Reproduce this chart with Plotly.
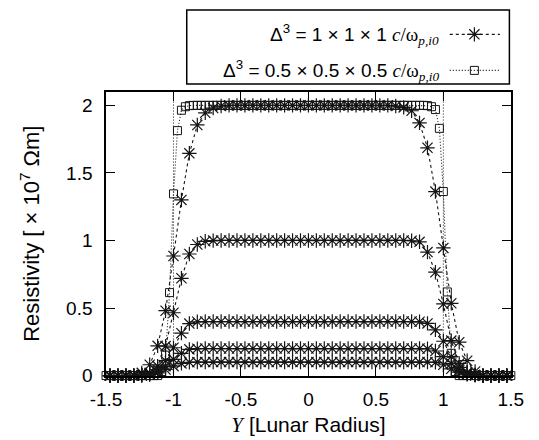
import plotly.graph_objects as go

# ---------------- data ----------------
# positive half of the fine grid (Delta = 0.5 run), lunar radii
Y_POS_FINE = [0.0294, 0.0588, 0.0882, 0.1176, 0.1471, 0.1765, 0.2059, 0.2353, 0.2647,
              0.2941, 0.3235, 0.3529, 0.3824, 0.4118, 0.4412, 0.4706, 0.5, 0.5294,
              0.5588, 0.5882, 0.6176, 0.6471, 0.6765, 0.7059, 0.7353, 0.7647, 0.7941,
              0.8235, 0.8529, 0.8824, 0.9118, 0.9412, 0.9706, 1.0, 1.0294, 1.0588,
              1.0882, 1.1176, 1.1471, 1.1765, 1.2059, 1.2353, 1.2647, 1.2941, 1.3235,
              1.3529, 1.3824, 1.4118, 1.4412, 1.4706, 1.5]
Y_FINE = [-v for v in reversed(Y_POS_FINE)] + [0.0] + Y_POS_FINE
# coarse grid (Delta = 1 run): every other fine-grid cell
Y_COARSE = Y_FINE[1::2]

# Delta^3 = 1x1x1 runs (asterisks), five resistivity levels [x 1e7 Ohm m]
RHO_D1_20 = [0, 0, 0, 0, 0.02, 0.08, 0.22, 0.48, 0.885, 1.30, 1.645, 1.855, 1.945, 1.98, 1.995,
             2.0, 2.0, 2.0, 2.0, 2.0, 2.0, 2.0, 2.0, 2.0, 2.0, 2.0, 2.0, 2.0, 2.0, 2.0, 2.0,
             2.0, 2.0, 2.0, 2.0, 2.0,
             1.995, 1.985, 1.96, 1.87, 1.686, 1.362, 0.945, 0.535, 0.247, 0.11, 0.03, 0, 0, 0, 0]
RHO_D1_10 = [0, 0, 0, 0, 0.005, 0.02, 0.07, 0.218, 0.465, 0.72, 0.90, 0.97, 0.994, 0.999, 1.0,
             1.0, 1.0, 1.0, 1.0, 1.0, 1.0, 1.0, 1.0, 1.0, 1.0, 1.0, 1.0, 1.0, 1.0, 1.0, 1.0,
             1.0, 1.0, 1.0, 1.0, 1.0,
             1.0, 1.0, 0.998, 0.99, 0.914, 0.765, 0.53, 0.259, 0.09, 0.025, 0.005, 0, 0, 0, 0]
RHO_D1_04 = [0, 0, 0, 0, 0.003, 0.015, 0.045, 0.11, 0.206, 0.314, 0.385, 0.398, 0.4, 0.4, 0.4,
             0.4, 0.4, 0.4, 0.4, 0.4, 0.4, 0.4, 0.4, 0.4, 0.4, 0.4, 0.4, 0.4, 0.4, 0.4, 0.4,
             0.4, 0.4, 0.4, 0.4, 0.4,
             0.4, 0.4, 0.4, 0.398, 0.386, 0.338, 0.254, 0.14, 0.06, 0.02, 0.005, 0, 0, 0, 0]
RHO_D1_02 = [0, 0, 0, 0, 0.002, 0.01, 0.03, 0.07, 0.12, 0.165, 0.194, 0.199, 0.2, 0.2, 0.2,
             0.2, 0.2, 0.2, 0.2, 0.2, 0.2, 0.2, 0.2, 0.2, 0.2, 0.2, 0.2, 0.2, 0.2, 0.2, 0.2,
             0.2, 0.2, 0.2, 0.2, 0.2,
             0.2, 0.2, 0.2, 0.2, 0.198, 0.182, 0.14, 0.09, 0.04, 0.012, 0.003, 0, 0, 0, 0]
RHO_D1_01 = [0, 0, 0, 0, 0.002, 0.008, 0.02, 0.045, 0.07, 0.09, 0.098, 0.1, 0.1, 0.1, 0.1,
             0.1, 0.1, 0.1, 0.1, 0.1, 0.1, 0.1, 0.1, 0.1, 0.1, 0.1, 0.1, 0.1, 0.1, 0.1, 0.1,
             0.1, 0.1, 0.1, 0.1, 0.1,
             0.1, 0.1, 0.1, 0.1, 0.1, 0.098, 0.08, 0.05, 0.025, 0.01, 0.003, 0, 0, 0, 0]

# Delta^3 = 0.5x0.5x0.5 run (squares)
RHO_D05_20 = [0, 0, 0, 0, 0, 0, 0, 0, 0, 0, 0, 0, 0, 0,
              0.03, 0.151, 0.614, 1.345, 1.813, 1.964, 1.99, 1.998,
              2.0, 2.0, 2.0, 2.0, 2.0, 2.0, 2.0, 2.0, 2.0, 2.0,
              2.0, 2.0, 2.0, 2.0, 2.0, 2.0, 2.0, 2.0, 2.0, 2.0,
              2.0, 2.0, 2.0, 2.0, 2.0, 2.0, 2.0, 2.0, 2.0, 2.0,
              2.0, 2.0, 2.0, 2.0, 2.0, 2.0, 2.0, 2.0, 2.0, 2.0,
              2.0, 2.0, 2.0, 2.0, 2.0, 2.0, 2.0, 2.0, 2.0, 2.0,
              2.0, 2.0, 2.0, 2.0, 2.0, 2.0, 2.0, 2.0, 2.0,
              1.998, 1.99, 1.969, 1.83, 1.362, 0.619, 0.165, 0.03,
              0, 0, 0, 0, 0, 0, 0, 0, 0, 0, 0, 0, 0, 0]

LIMB_Y = [-1.0, 1.0]

X_TICKS = [-1.5, -1, -0.5, 0, 0.5, 1, 1.5]
X_TICK_LABELS = ["-1.5", "-1", "-0.5", "0", "0.5", "1", "1.5"]
Y_TICKS = [0, 0.5, 1, 1.5, 2]
Y_TICK_LABELS = ["0", "0.5", "1", "1.5", "2"]

SERIF = "Liberation Serif"
LEGEND_LABELS = [
    'Δ<sup>3</sup> = 1 × 1 × 1 <span style="font-family:%s"><i>c</i>/ω<sub><i>p,i0</i></sub></span>' % SERIF,
    'Δ<sup>3</sup> = 0.5 × 0.5 × 0.5 <span style="font-family:%s"><i>c</i>/ω<sub><i>p,i0</i></sub></span>' % SERIF,
]
X_TITLE = '<span style="font-family:%s"><i>Y</i></span> [Lunar Radius]' % SERIF
Y_TITLE = 'Resistivity [ × 10<sup>7</sup> Ωm]'

# ---------------- styling ----------------
W, H = 539, 440
INK = "#151515"
SANS = "Liberation Sans"
DASHED = "3px,3px"
DOTTED = "1px,2px"

ast_marker = dict(symbol="asterisk-open", size=12, color=INK, line=dict(width=1.2, color=INK))
sq_marker = dict(symbol="square-open", size=8, color=INK, line=dict(width=1, color=INK))

fig = go.Figure()

for rho in [RHO_D1_20, RHO_D1_10, RHO_D1_04, RHO_D1_02, RHO_D1_01]:
    fig.add_trace(go.Scatter(x=Y_COARSE, y=rho, mode="lines+markers",
                             line=dict(color=INK, width=1.1, dash=DASHED),
                             marker=ast_marker, cliponaxis=False, showlegend=False))

fig.add_trace(go.Scatter(x=Y_FINE, y=RHO_D05_20, mode="lines+markers",
                         line=dict(color=INK, width=1.1, dash=DOTTED),
                         marker=sq_marker, cliponaxis=False, showlegend=False))

for xl in LIMB_Y:
    fig.add_shape(type="line", xref="x", yref="y domain", x0=xl, x1=xl, y0=0, y1=1,
                  line=dict(color=INK, width=1, dash=DOTTED))

# main axes placed by pixel domains (margins are zero)
px_left, px_right, px_top, px_bottom = 86.7, 514.5, 86, 377
ax_common = dict(showline=True, mirror="ticks", linecolor="black", linewidth=1.5,
                 ticks="inside", ticklen=9, tickwidth=1.3, tickcolor="black",
                 showgrid=False, zeroline=False,
                 tickfont=dict(family=SANS, size=19, color="black"))
fig.update_layout(
    xaxis=dict(domain=[px_left / W, px_right / W], range=[-1.5, 1.5],
               tickvals=X_TICKS, ticktext=X_TICK_LABELS, ticklabelstandoff=6,
               title=dict(text=X_TITLE, standoff=8,
                          font=dict(family=SANS, size=21, color="black")),
               anchor="y", **ax_common),
    yaxis=dict(domain=[(H - px_bottom) / H, (H - px_top) / H], range=[0, 2.1],
               tickvals=Y_TICKS, ticktext=Y_TICK_LABELS, ticklabelstandoff=8,
               title=dict(text=Y_TITLE, standoff=20,
                          font=dict(family=SANS, size=22, color="black")),
               anchor="x", **ax_common),
)

# legend drawn in its own small axes pair
lg_left, lg_right, lg_top, lg_bottom = 172, 513, 2, 78
fig.update_layout(
    xaxis2=dict(domain=[lg_left / W, lg_right / W], range=[0, 1], visible=False,
                anchor="y2", fixedrange=True),
    yaxis2=dict(domain=[(H - lg_bottom) / H, (H - lg_top) / H], range=[0, 1], visible=False,
                anchor="x2", fixedrange=True),
)
fig.add_shape(type="rect", xref="x2 domain", yref="y2 domain", x0=0, x1=1, y0=0, y1=1,
              line=dict(color="black", width=1.5), fillcolor="rgba(0,0,0,0)")

def legend_y(px):
    return (lg_bottom - px) / (lg_bottom - lg_top)

sample_x0 = (450 - lg_left) / (lg_right - lg_left)
sample_x1 = (503 - lg_left) / (lg_right - lg_left)
sample_xm = (476 - lg_left) / (lg_right - lg_left)
text_x = (441 - lg_left) / (lg_right - lg_left)
rows = [(27, DASHED, ast_marker), (64, DOTTED, sq_marker)]
for (row_px, dash, mk), label in zip(rows, LEGEND_LABELS):
    yy = legend_y(row_px)
    fig.add_trace(go.Scatter(x=[sample_x0, sample_x1], y=[yy, yy], mode="lines",
                             line=dict(color=INK, width=1.1, dash=dash),
                             xaxis="x2", yaxis="y2", showlegend=False, hoverinfo="skip"))
    fig.add_trace(go.Scatter(x=[sample_xm], y=[yy], mode="markers", marker=mk,
                             xaxis="x2", yaxis="y2", showlegend=False, hoverinfo="skip"))
    fig.add_annotation(xref="x2", yref="y2", x=text_x, y=yy, text=label, showarrow=False,
                       xanchor="right", yanchor="middle",
                       font=dict(family=SANS, size=19, color="black"))

fig.update_layout(width=W, height=H, autosize=False,
                  margin=dict(l=0, r=0, t=0, b=0),
                  paper_bgcolor="white", plot_bgcolor="white",
                  showlegend=False)

fig.write_html("out.html")
